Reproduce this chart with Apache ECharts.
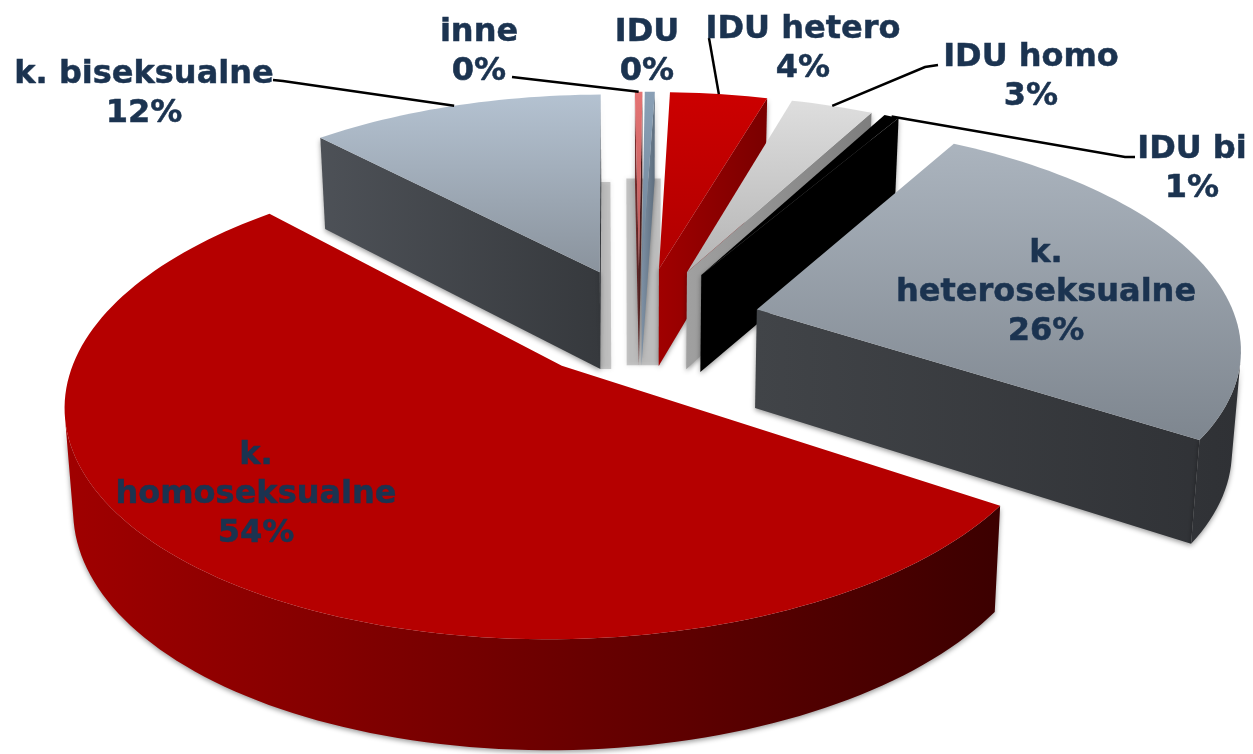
<!DOCTYPE html>
<html><head><meta charset="utf-8">
<style>html,body{margin:0;padding:0;background:#fff}#c{width:1253px;height:754px}</style>
<script src="https://cdn.jsdelivr.net/npm/echarts@6/dist/echarts.min.js"></script>
</head><body><div id="c"></div>
<script>
// data (clockwise from the top)
const names = ['IDU','IDU hetero','IDU homo','IDU bi','k.\nheteroseksualne','k.\nhomoseksualne','k. biseksualne','inne'];
const values = [0.4,3.9,3.3,0.6,26.0,53.7,11.8,0.3];
const percentLabels = ['0%','4%','3%','1%','26%','54%','12%','0%'];

// styling, kept apart from the data
const topColors = [['#8aa0b6','#6f8498'],['#cc0000','#b00000'],['#dedede','#b4b4b4'],['#000000','#000000'],['#abb4be','#7e868f'],['#b50000','#b50000'],['#b4c2d1','#8a939d'],['#e57373','#b85a5a']];
const wallColors = [['#7d90a4','#5d6d7d'],['#a00000','#7a0000'],['#a0a0a0','#7e7e7e'],['#000000','#000000'],['#414448','#2f3135'],['#a00000','#3c0000'],['#4d5157','#36393d'],['#7a3030','#401818']];
const drawRank = [1,2,3,4,5,7,6,0];
const explodeX = [0.27,0.28,0.28,0.28,0.257,0.244,0.23,0.27];
const sliceRadius = [1,1,1,1,1.01,1,1,1];
// label centre and leader-line route, per slice
const labelCenters = [[647,52],[803,49],[1031,77],[1192,169],[1046,293],[256,495],[144,94],[479,52]];
const leaderRoutes = [null,[[709,38]],[[938,65],[925,67]],[[1135,157],[1125,157]],null,null,[[273,80],[283,81]],[[512,77]]];

const START = 0.5, CX = 639, CY = 322, RX = 475, RY = 218, K = 0.15, K_DEPTH = 0.09, DEPTH = 99, XS = 0.015, EXPLODE_Y = 0.255;
const total = values.reduce((a,b)=>a+b,0);
const rad = d => d*Math.PI/180;

function sliceAngles(i){
  let a = START;
  for(let j=0;j<i;j++) a += values[j]/total*360;
  return [a, a+values[i]/total*360];
}
function project(x,y,z){
  const w = 1+K*y;
  return [CX+RX*x/w*(1-XS*z), CY-RY*y/w+DEPTH*z/(1+K_DEPTH*y)];
}
function planPoint(i,r,deg){
  const [a,b] = sliceAngles(i), m = rad((a+b)/2), t = rad(deg), R = r*sliceRadius[i];
  return [explodeX[i]*Math.sin(m)+R*Math.sin(t), EXPLODE_Y*Math.cos(m)+R*Math.cos(t)];
}
function area(p){
  let s=0; for(let i=0;i<p.length;i++){const a=p[i],b=p[(i+1)%p.length]; s+=a[0]*b[1]-b[0]*a[1];}
  return s/2;
}

function sliceItem(params, api){
  const i = params.dataIndex, [a,b] = sliceAngles(i), rank = drawRank[i]*10;
  const top3 = (r,d,z)=>{const q=planPoint(i,r,d); return project(q[0],q[1],z);};
  const steps = Math.max(2,Math.ceil((b-a)/1.5));
  const arc=[]; for(let s=0;s<=steps;s++) arc.push(a+(b-a)*s/steps);
  const children=[];
  // one horizontal shade across all the walls of the slice
  const xs = arc.map(d=>top3(1,d,0)[0]).concat([top3(0,a,0)[0]]);
  const x0 = Math.min.apply(null,xs), x1 = Math.max.apply(null,xs);
  const shade = new echarts.graphic.LinearGradient(x0,0,x1,0,[{offset:0,color:wallColors[i][0]},{offset:1,color:wallColors[i][1]}],true);
  const wallStyle = {fill:shade,shadowBlur:5,shadowColor:'rgba(0,0,0,0.4)',shadowOffsetY:2};
  // soft shadow strips that sit behind the central wedges
  if(i===0 || i===6){
    const half = i===0 ? 0.037 : 0.012, q = planPoint(i,0,a), sx = i===0 ? 0.004 : 0.012;
    const pts=[project(q[0]+sx-half,q[1],-0.93),project(q[0]+sx+half,q[1],-0.93),project(q[0]+sx+half,q[1],1),project(q[0]+sx-half,q[1],1)];
    children.push({type:'polygon',shape:{points:pts},style:{fill:'rgba(120,120,120,0.38)',shadowBlur:4,shadowColor:'rgba(120,120,120,0.5)'},z2:-5});
  }
  // cut faces
  [[top3(0,a,0),top3(1,a,0),top3(1,a,1),top3(0,a,1)],[top3(1,b,0),top3(0,b,0),top3(0,b,1),top3(1,b,1)]].forEach((q,n)=>{
    if(area(q)<-20) children.push({type:'polygon',shape:{points:q},style:wallStyle,z2:rank+1+n});
  });
  // outer wall: the run of arc facets that face the viewer
  let run=[];
  const flush=()=>{ if(run.length>1){
      const pts=run.map(d=>top3(1,d,0)).concat(run.slice().reverse().map(d=>top3(1,d,1)));
      children.push({type:'polygon',shape:{points:pts},style:wallStyle,z2:rank+3});
    } run=[]; };
  for(let s=0;s<steps;s++){
    const q=[top3(1,arc[s],0),top3(1,arc[s+1],0),top3(1,arc[s+1],1),top3(1,arc[s],1)];
    if(area(q)<0){ if(!run.length) run.push(arc[s]); run.push(arc[s+1]); } else flush();
  }
  flush();
  // top face
  const topPts=[top3(0,a,0)].concat(arc.map(d=>top3(1,d,0)));
  children.push({type:'polygon',shape:{points:topPts},style:{fill:new echarts.graphic.LinearGradient(0,0,0,1,[{offset:0,color:topColors[i][0]},{offset:1,color:topColors[i][1]}])},z2:rank+5});
  return {type:'group',children};
}

function labelItem(params, api){
  const i = params.dataIndex, c = labelCenters[i], children=[];
  if(leaderRoutes[i]){
    const [a,b]=sliceAngles(i), q=planPoint(i,1,(a+b)/2), end=project(q[0],q[1],0);
    children.push({type:'polyline',shape:{points:leaderRoutes[i].concat([end])},style:{stroke:'#000',lineWidth:2.5,fill:null},z2:500});
  }
  children.push({type:'text',style:{text:names[i]+'\n'+percentLabels[i],x:c[0],y:c[1],align:'center',verticalAlign:'middle',
    font:'bold 32px "DejaVu Sans"',lineHeight:39,fill:'#1b3350',stroke:'#1b3350',lineWidth:0.5},z2:600});
  return {type:'group',children};
}

const chart = echarts.init(document.getElementById('c'),null,{renderer:'canvas'});
chart.setOption({
  animation:false,
  backgroundColor:'#fff',
  series:[
    {type:'custom',coordinateSystem:'none',silent:true,data:values.map(v=>[v]),renderItem:sliceItem,z:2},
    {type:'custom',coordinateSystem:'none',silent:true,data:values.map(v=>[v]),renderItem:labelItem,z:3}
  ]
});
</script></body></html>
